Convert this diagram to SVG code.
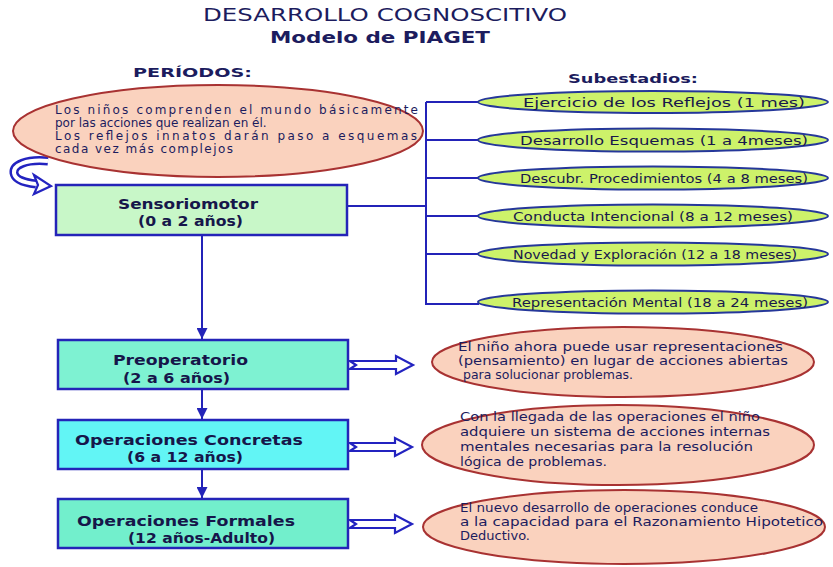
<svg xmlns="http://www.w3.org/2000/svg" width="833" height="567" viewBox="0 0 833 567">
<style>
.t{font-family:"DejaVu Sans","Liberation Sans",sans-serif;fill:#1c1c5e}
.hd{font-weight:bold;font-size:13px}
.bx{stroke:#2424b8;stroke-width:2.5}
.bl{font-weight:bold;font-size:13.5px;fill:#16164a}
.pe{fill:#fad2be;stroke:#a83232;stroke-width:2}
.ge{fill:#cdf26a;stroke:#25379a;stroke-width:2}
.et{font-size:12px}
.e1{font-size:12px}
.gt{font-size:12px;fill:#18184a}
.ln{stroke:#2323b8;stroke-width:2;fill:none}
.da{fill:#ffffff;stroke:#2323c0;stroke-width:2.2;stroke-linejoin:miter}
</style>
<defs>
<marker id="ah" viewBox="0 0 10 10" refX="10" refY="5" markerWidth="13" markerHeight="11" markerUnits="userSpaceOnUse" orient="auto">
<path d="M0,0 L10,5 L0,10 z" fill="#2323b8"/>
</marker>
</defs>
<rect width="833" height="567" fill="#ffffff"/>

<g id="titles">
<text class="t" x="203" y="21" font-size="17" fill="#25256e" textLength="364" lengthAdjust="spacingAndGlyphs">DESARROLLO COGNOSCITIVO</text>
<text class="t" x="270" y="43" font-size="15" font-weight="bold" textLength="220" lengthAdjust="spacingAndGlyphs">Modelo de PIAGET</text>
<text class="t hd" x="133" y="77" textLength="119" lengthAdjust="spacingAndGlyphs">PERÍODOS:</text>
<text class="t hd" x="568" y="83" textLength="130" lengthAdjust="spacingAndGlyphs">Subestadios:</text>
</g>

<g id="connectors">
<line class="ln" x1="202" y1="235" x2="202" y2="339" marker-end="url(#ah)"/>
<line class="ln" x1="202" y1="389" x2="202" y2="419" marker-end="url(#ah)"/>
<line class="ln" x1="202" y1="469" x2="202" y2="498" marker-end="url(#ah)"/>
<line class="ln" x1="347" y1="206" x2="426" y2="206"/>
<line class="ln" x1="426" y1="102" x2="426" y2="305"/>
<line class="ln" x1="426" y1="102" x2="479" y2="102"/>
<line class="ln" x1="426" y1="140" x2="479" y2="140"/>
<line class="ln" x1="426" y1="178" x2="479" y2="178"/>
<line class="ln" x1="426" y1="216" x2="479" y2="216"/>
<line class="ln" x1="426" y1="254" x2="479" y2="254"/>
<line class="ln" x1="426" y1="304" x2="479" y2="304"/>
<path class="da" d="M350,361 L396,361 L396,356 L413,365 L396,374 L396,369 L350,369 L356,365 Z"/>
<path class="da" d="M350,443 L395,443 L395,438 L412,447 L395,456 L395,451 L350,451 L356,447 Z"/>
<path class="da" d="M350,520 L395,520 L395,515 L412,524 L395,533 L395,528 L350,528 L356,524 Z"/>
<path d="M48,161 C26,159 13,165 14,173 C15,180 26,183 36,184" fill="none" stroke="#2323c0" stroke-width="9"/>
<path d="M48,161 C26,159 13,165 14,173 C15,180 26,183 36,184" fill="none" stroke="#ffffff" stroke-width="4"/>
<polygon class="da" points="34,175 51,186 34,194 38,185"/>
</g>

<g id="desc-sensoriomotor">
<ellipse class="pe" cx="218" cy="131" rx="205" ry="46"/>
<text class="t e1" x="55" y="114" textLength="363" lengthAdjust="spacing">Los niños comprenden el mundo básicamente</text>
<text class="t e1" x="55" y="127">por las acciones que realizan en él.</text>
<text class="t e1" x="55" y="140" textLength="362" lengthAdjust="spacing">Los reflejos innatos darán paso a esquemas</text>
<text class="t e1" x="55" y="153" textLength="178" lengthAdjust="spacing">cada vez más complejos</text>
</g>

<g id="sensoriomotor">
<rect class="bx" x="56" y="185" width="291" height="50" fill="#c8f7c8"/>
<text class="t bl" x="118" y="209" textLength="140" lengthAdjust="spacingAndGlyphs">Sensoriomotor</text>
<text class="t bl" x="138" y="226" textLength="105" lengthAdjust="spacingAndGlyphs">(0 a 2 años)</text>
</g>

<g id="sub1"><ellipse class="ge" cx="653" cy="102" rx="175" ry="11"/>
<text class="t gt" x="523" y="106.5" textLength="282" lengthAdjust="spacingAndGlyphs">Ejercicio de los Reflejos (1 mes)</text></g>
<g id="sub2"><ellipse class="ge" cx="653" cy="140" rx="175" ry="11.5"/>
<text class="t gt" x="520" y="144.5" textLength="288" lengthAdjust="spacingAndGlyphs">Desarrollo Esquemas (1 a 4meses)</text></g>
<g id="sub3"><ellipse class="ge" cx="653" cy="178" rx="175" ry="11.5"/>
<text class="t gt" x="520" y="182.5" font-size="11.2" textLength="288" lengthAdjust="spacingAndGlyphs">Descubr. Procedimientos (4 a 8 meses)</text></g>
<g id="sub4"><ellipse class="ge" cx="653" cy="216" rx="175" ry="11.5"/>
<text class="t gt" x="513" y="220.5" textLength="280" lengthAdjust="spacingAndGlyphs">Conducta Intencional (8 a 12 meses)</text></g>
<g id="sub5"><ellipse class="ge" cx="653" cy="254" rx="175" ry="11.5"/>
<text class="t gt" x="513" y="258.5" textLength="284" lengthAdjust="spacingAndGlyphs">Novedad y Exploración (12 a 18 meses)</text></g>
<g id="sub6"><ellipse class="ge" cx="653" cy="302" rx="175" ry="11.5"/>
<text class="t gt" x="512" y="306.5" textLength="296" lengthAdjust="spacingAndGlyphs">Representación Mental (18 a 24 meses)</text></g>

<g id="preoperatorio">
<rect class="bx" x="58" y="340" width="290" height="49" fill="#7ef2d2"/>
<text class="t bl" x="113" y="365" textLength="135" lengthAdjust="spacingAndGlyphs">Preoperatorio</text>
<text class="t bl" x="123" y="383" textLength="107" lengthAdjust="spacingAndGlyphs">(2 a 6 años)</text>
</g>
<g id="desc-preoperatorio">
<ellipse class="pe" cx="623" cy="362" rx="191" ry="35"/>
<text class="t et" x="458" y="351" textLength="325" lengthAdjust="spacingAndGlyphs">El niño ahora puede usar representaciones</text>
<text class="t et" x="458" y="365" textLength="330" lengthAdjust="spacingAndGlyphs">(pensamiento) en lugar de acciones abiertas</text>
<text class="t et" x="463" y="379" textLength="170" lengthAdjust="spacingAndGlyphs">para solucionar problemas.</text>
</g>

<g id="concretas">
<rect class="bx" x="58" y="420" width="290" height="49" fill="#62f5f5"/>
<text class="t bl" x="75" y="445" textLength="228" lengthAdjust="spacingAndGlyphs">Operaciones Concretas</text>
<text class="t bl" x="127" y="462" textLength="116" lengthAdjust="spacingAndGlyphs">(6 a 12 años)</text>
</g>
<g id="desc-concretas">
<ellipse class="pe" cx="618" cy="445" rx="196" ry="40"/>
<text class="t et" x="460" y="421" textLength="300" lengthAdjust="spacingAndGlyphs">Con la llegada de las operaciones el niño</text>
<text class="t et" x="460" y="436" textLength="310" lengthAdjust="spacingAndGlyphs">adquiere un sistema de acciones internas</text>
<text class="t et" x="460" y="451" textLength="293" lengthAdjust="spacingAndGlyphs">mentales necesarias para la resolución</text>
<text class="t et" x="460" y="466" textLength="147" lengthAdjust="spacingAndGlyphs">lógica de problemas.</text>
</g>

<g id="formales">
<rect class="bx" x="58" y="499" width="290" height="49" fill="#72efcc"/>
<text class="t bl" x="77" y="526" textLength="218" lengthAdjust="spacingAndGlyphs">Operaciones Formales</text>
<text class="t bl" x="128" y="543" textLength="147" lengthAdjust="spacingAndGlyphs">(12 años-Adulto)</text>
</g>
<g id="desc-formales">
<ellipse class="pe" cx="624" cy="527" rx="201" ry="37"/>
<text class="t et" x="460" y="512" textLength="298" lengthAdjust="spacingAndGlyphs">El nuevo desarrollo de operaciones conduce</text>
<text class="t et" x="460" y="526" textLength="363" lengthAdjust="spacingAndGlyphs">a la capacidad para el Razonamiento Hipotetico</text>
<text class="t et" x="460" y="540" textLength="70" lengthAdjust="spacingAndGlyphs">Deductivo.</text>
</g>
</svg>
